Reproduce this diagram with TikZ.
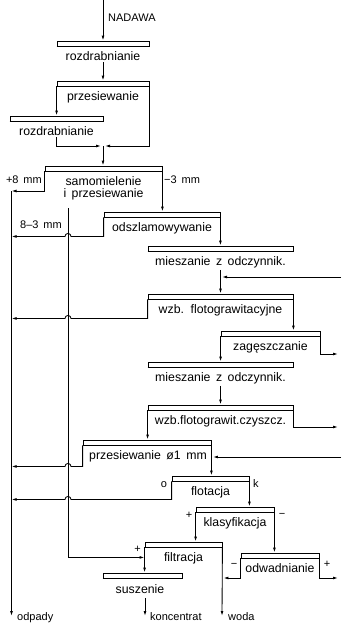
\documentclass[tikz,border=0pt]{standalone}
\usepackage{fontspec}
\setmainfont{Liberation Sans}[WordSpace=1.6]
\usetikzlibrary{arrows.meta,calc}

\begin{document}
\begin{tikzpicture}[x=1pt,y=-1pt,
  flow/.style={line width=0.85pt},
  arr/.style={flow,-{Latex[length=5pt,width=2.8pt]}},
  bar/.style={draw,line width=0.85pt,rectangle,inner sep=0pt,minimum height=5pt},
  lbl/.style={font=\fontsize{12.3}{13}\selectfont,inner sep=0pt,anchor=base},
  tag/.style={font=\fontsize{11}{12}\selectfont,inner sep=0pt,anchor=base},
]
\useasboundingbox (0,0) rectangle (341,625);

% process bars
\node[bar,minimum width=92pt]  (b1)  at (103,43.5)   {};
\node[bar,minimum width=92pt]  (b2)  at (103,83.5)   {};
\node[bar,minimum width=93pt]  (b3)  at (56.5,118.5) {};
\node[bar,minimum width=117pt] (b4)  at (103.5,168.5) {};
\node[bar,minimum width=116pt] (b5)  at (162,214.5)  {};
\node[bar,minimum width=145pt] (b6)  at (220.5,248.5) {};
\node[bar,minimum width=145pt] (b7)  at (220.5,296.5) {};
\node[bar,minimum width=99pt]  (b8)  at (270.5,333.5) {};
\node[bar,minimum width=145pt] (b9)  at (220.5,364.5) {};
\node[bar,minimum width=145pt] (b10) at (220.5,407.5) {};
\node[bar,minimum width=128pt] (b11) at (147,442.5)  {};
\node[bar,minimum width=77pt]  (b12) at (210.5,478.5) {};
\node[bar,minimum width=78pt]  (b13) at (235,509.5)  {};
\node[bar,minimum width=77pt]  (b14) at (183.5,544.5) {};
\node[bar,minimum width=78pt]  (b15) at (280,555.5)  {};
\node[bar,minimum width=79pt]  (b16) at (142.5,575.5) {};
\foreach \b in {b1,b2,b3,b4,b5,b6,b7,b8,b9,b10,b11,b12,b13,b14,b15,b16}
  \draw[line width=1.5pt] (\b.south west) -- (\b.south east);

% process names
\node[lbl] (t1)  at (103,60)    {rozdrabnianie};
\node[lbl] (t2)  at (103,100)   {przesiewanie};
\node[lbl] (t3)  at (56.5,135)  {rozdrabnianie};
\node[lbl] (t4a) at (103.5,185) {samomielenie};
\node[lbl] (t4b) at (103.5,197) {i przesiewanie};
\node[lbl] (t5)  at (162,231)   {odszlamowywanie};
\node[lbl] (t6)  at (220.5,265) {mieszanie z odczynnik.};
\node[lbl] (t7)  at (220.5,313) {wzb. flotograwitacyjne};
\node[lbl] (t8)  at (270.5,350) {zagęszczanie};
\node[lbl] (t9)  at (220.5,381) {mieszanie z odczynnik.};
\node[lbl] (t10) at (220.5,424) {wzb.flotograwit.czyszcz.};
\node[lbl] (t11) at (148,459)   {przesiewanie ø1 mm};
\node[lbl] (t12) at (210.5,495) {flotacja};
\node[lbl] (t13) at (235,526)   {klasyfikacja};
\node[lbl] (t14) at (183.5,561) {filtracja};
\node[lbl] (t15) at (280,572)   {odwadnianie};
\node[lbl] (t16) at (140,593)   {suszenie};

% stream labels
\node[tag,anchor=base west] (nadawa) at (108,21)  {NADAWA};
\node[tag,anchor=base east] (p8)     at (42,183)  {+8 mm};
\node[tag,anchor=base west] (m3)     at (164,183) {−3 mm};
\node[tag,anchor=base east] (r83)    at (62,228)  {8–3 mm};
\node[tag] (fo)  at (164,487)   {o};
\node[tag,anchor=base west] (fk) at (253,487) {k};
\node[tag] (kp)  at (189,518)   {+};
\node[tag] (km)  at (282,517)   {−};
\node[tag] (fp)  at (137.5,552) {+};
\node[tag] (om)  at (234,567)   {−};
\node[tag] (op)  at (327,567)   {+};
\node[tag,anchor=base west] (odp)  at (17,620)  {odpady};
\node[tag,anchor=base west] (kon)  at (150,620) {koncentrat};
\node[tag,anchor=base west] (wod)  at (228,620) {woda};

% free ends of streams
\coordinate (feed)     at (103,0);
\coordinate (mA)       at (103,146);
\coordinate (waste)    at (11.5,191);
\coordinate (wasteEnd) at (11.5,616);
\coordinate (fines)    at (68,208);
\coordinate (in1)      at (341,277);
\coordinate (in2)      at (341,457);
\coordinate (out1)     at (338,354);
\coordinate (out2)     at (338,427);
\coordinate (out3)     at (338,578);
\coordinate (conc)     at (145,616);
\coordinate (water)    at (222,616);
\coordinate (r5)  at ($(b5.south west)+(0,19)$);
\coordinate (r7)  at ($(b7.south west)+(0,19)$);
\coordinate (r11) at ($(b11.south west)+(0,21)$);
\coordinate (r12) at ($(b12.south west)+(0,18)$);
\coordinate (rf)  at ($(b14.south west)+(0,10)$);

% crushing and screening loop
\draw[arr] (feed) -- (b1.north);
\draw[arr] ([yshift=-2pt]t1.south) -- (b2.north);
\draw[arr] (b2.south west) -- (b2.south west |- b3.north);
\draw[arr] (b2.south east) |- ([xshift=2pt]mA);
\draw[arr] ([yshift=-2pt]t3.south) |- ([xshift=-2pt]mA);
\draw[arr] (mA) -- (mA |- b4.north);

% waste collector and sized fractions
\draw[arr] (waste) -- (wasteEnd);
\draw[arr] (b4.south west) |- (waste);
\draw[arr] (b4.south east) -- (b4.south east |- b5.north);
\draw[arr] (fines) |- (rf);

% outputs crossing the 8-3 mm line
\draw[arr] (b5.south west) -- (r5) -- ([xshift=3pt]fines |- r5)
  arc[start angle=0,end angle=-180,radius=3] -- (waste |- r5);
\draw[arr] (b7.south west) -- (r7) -- ([xshift=3pt]fines |- r7)
  arc[start angle=0,end angle=-180,radius=3] -- (waste |- r7);
\draw[arr] (b11.south west) -- (r11) -- ([xshift=3pt]fines |- r11)
  arc[start angle=0,end angle=-180,radius=3] -- (waste |- r11);
\draw[arr] (b12.south west) -- (r12) -- ([xshift=3pt]fines |- r12)
  arc[start angle=0,end angle=-180,radius=3] -- (waste |- r12);

% gravity and flotation line
\draw[arr] (b5.south east) -- (b5.south east |- b6.north);
\draw[arr] ([yshift=-2pt]t6.south) -- (b7.north);
\draw[arr] (in1) -- ([xshift=1.5pt]b7.north |- in1);
\draw[arr] (b7.south east) -- (b7.south east |- b8.north);
\draw[arr] (b8.south east) |- (out1);
\draw[arr] (b8.south west) -- (b8.south west |- b9.north);
\draw[arr] ([yshift=-2pt]t9.south) -- (b10.north);
\draw[arr] (b10.south east) |- (out2);
\draw[arr] (b10.south west) -- (b10.south west |- b11.north);
\draw[arr] (in2) -- ([xshift=1.5pt]b11.south east |- in2);
\draw[arr] (b11.south east) -- (b11.south east |- b12.north);
\draw[arr] (b12.south east) -- (b12.south east |- b13.north);
\draw[arr] (b13.south west) -- (b13.south west |- b14.north);
\draw[arr] (b13.south east) -- (b13.south east |- b15.north);
\draw[arr] (b15.south east) |- (out3);
\draw[arr] (b15.south west) |- ([xshift=1pt]b14.south east |- out3);
\draw[arr] (b14.south west) -- (b14.south west |- b16.north);
\draw[arr] (b14.south east) -- (water);
\draw[arr] ([yshift=-5pt]conc |- t16.south) -- (conc);
\end{tikzpicture}
\end{document}
